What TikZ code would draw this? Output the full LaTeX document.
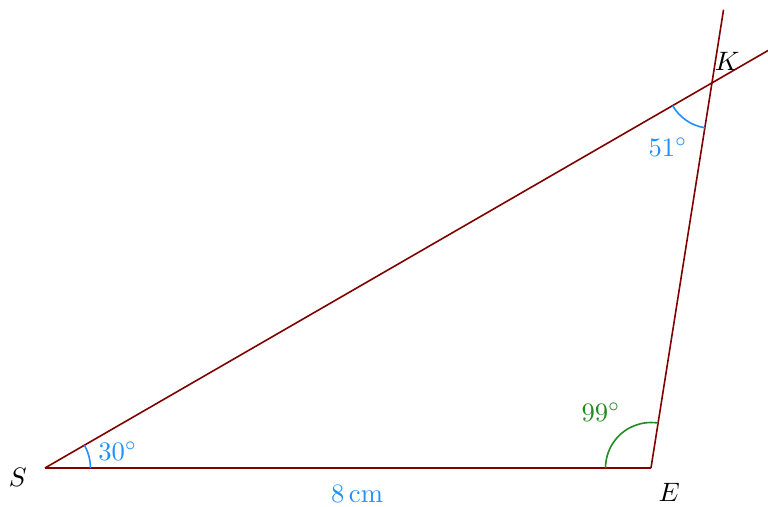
\documentclass[tikz,border=0pt]{standalone}
\usetikzlibrary{calc,angles}
\definecolor{linered}{RGB}{128,0,0}
\definecolor{angblue}{RGB}{30,144,255}
\definecolor{anggreen}{RGB}{34,139,34}
\begin{document}
\begin{tikzpicture}[
  side/.style={draw=linered, semithick},
  angblue/.style={draw=angblue, semithick},
  anggreen/.style={draw=anggreen, semithick},
  bluelbl/.style={text=angblue, inner sep=1pt},
  greenlbl/.style={text=anggreen, inner sep=1pt},
  vtx/.style={inner sep=1pt}
]
\clip (-0.594,-0.515) rectangle (9.545,6.178);
\useasboundingbox (-0.594,-0.515) rectangle (9.545,6.178);
\coordinate (S) at (0,0);
\coordinate (E) at (8,0);
\coordinate (K) at ({10.167*cos(30)},{10.167*sin(30)});
\coordinate (Kx) at ($(S)!1.1!(K)$);
\coordinate (Ky) at ($(E)!1.19!(K)$);
\draw[side] (S) -- (E);
\draw[side] (S) -- (Kx);
\draw[side] (E) -- (Ky);
\pic[angblue, angle radius=0.6cm] {angle = E--S--K};
\pic[anggreen, angle radius=0.6cm] {angle = K--E--S};
\pic[angblue, angle radius=0.6cm] {angle = S--K--E};
\node[vtx] (lS) at ($(S)+(-0.36,-0.13)$) {$S$};
\node[vtx] (lE) at ($(E)+(0.24,-0.32)$) {$E$};
\node[vtx] (lK) at ($(K)+(0.2,0.29)$) {$K$};
\node[bluelbl] (a30) at ($(S)+(0.96,0.22)$) {$30^\circ$};
\node[greenlbl] (a99) at ($(E)+(-0.66,0.74)$) {$99^\circ$};
\node[bluelbl] (a51) at ($(K)+(-0.58,-0.85)$) {$51^\circ$};
\node[bluelbl] (len) at (4.12,-0.34) {$8\,\mathrm{cm}$};
\end{tikzpicture}
\end{document}
